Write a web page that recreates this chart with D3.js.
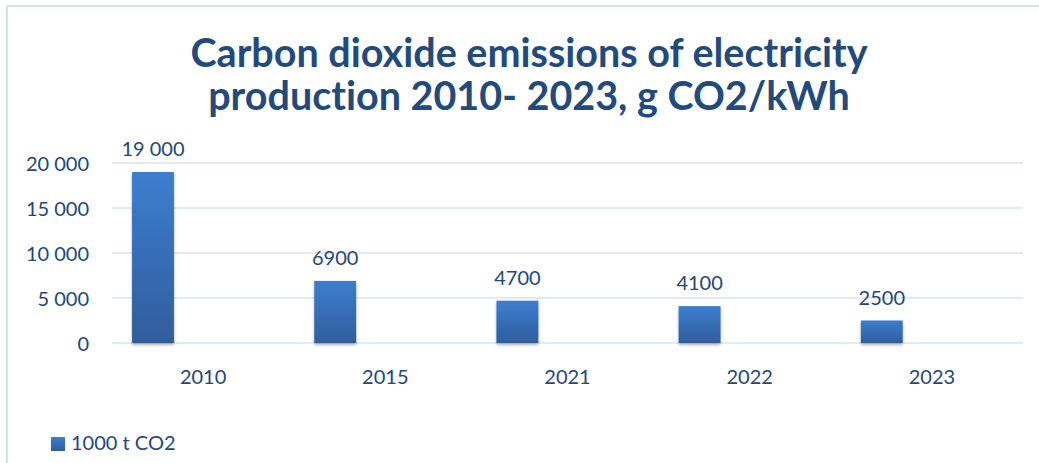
<!DOCTYPE html>
<html>
<head>
<meta charset="utf-8">
<script src="https://cdn.jsdelivr.net/npm/d3@7"></script>
<style>
  html, body { margin: 0; padding: 0; background: #fff; }
  svg { display: block; font-family: Lato, "Open Sans", sans-serif; font-variant-ligatures: none; }
</style>
</head>
<body>
<svg id="chart" width="1039" height="463"></svg>
<script>
// Emissions per year (series "1000 t CO2")
const years = ["2010", "2015", "2021", "2022", "2023"];
const emissions = [19000, 6900, 4700, 4100, 2500];
const valueLabels = ["19 000", "6900", "4700", "4100", "2500"];
const yTicks = [0, 5000, 10000, 15000, 20000];
const titleLines = ["Carbon dioxide emissions of electricity", "production 2010- 2023, g CO2/kWh"];
const seriesName = "1000 t CO2";

const svg = d3.select("#chart");
const textColor = "#22477a";
const gridColor = "#d9e3f3";

// outer frame (top and left edges)
svg.append("path")
  .attr("d", "M7,463 L7,6 L1039,6")
  .attr("fill", "none")
  .attr("stroke", "#d5e2f4")
  .attr("stroke-width", 2);

const plot = { left: 112, right: 1023, top: 163, bottom: 343 };

const x = d3.scaleBand().domain(years).range([plot.left, plot.right]);
const y = d3.scaleLinear().domain([0, 20000]).range([plot.bottom, plot.top]);

const defs = svg.append("defs");
const grad = defs.append("linearGradient")
  .attr("id", "barGrad").attr("x1", 0).attr("y1", 0).attr("x2", 0).attr("y2", 1);
grad.append("stop").attr("offset", "0%").attr("stop-color", "#3d7ecf");
grad.append("stop").attr("offset", "100%").attr("stop-color", "#2f5d9c");

const shadow = defs.append("filter").attr("id", "barShadow")
  .attr("x", "-20%").attr("y", "-10%").attr("width", "140%").attr("height", "130%");
shadow.append("feDropShadow")
  .attr("dx", 0).attr("dy", 2).attr("stdDeviation", 1.8)
  .attr("flood-color", "#000").attr("flood-opacity", 0.3);

// title
svg.append("text")
  .attr("x", 529).attr("y", 67)
  .attr("text-anchor", "middle")
  .attr("font-size", 39.5).attr("font-weight", 700)
  .attr("fill", "#234a7c")
  .selectAll("tspan").data(titleLines).join("tspan")
  .attr("x", 529)
  .attr("dy", (d, i) => i === 0 ? 0 : 43)
  .text(d => d);

// horizontal gridlines
svg.append("g").selectAll("line").data(yTicks).join("line")
  .attr("x1", plot.left).attr("x2", plot.right)
  .attr("y1", d => y(d)).attr("y2", d => y(d))
  .attr("stroke", gridColor).attr("stroke-width", 1.5);

// y axis labels
const yAxis = d3.axisLeft(y).tickValues(yTicks)
  .tickFormat(d => d3.format(",")(d).replace(/,/g, " "))
  .tickSize(0).tickPadding(0);
const yg = svg.append("g").attr("transform", `translate(89,0)`).call(yAxis);
yg.select(".domain").remove();
yg.selectAll("text")
  .attr("font-size", 20).attr("fill", textColor)
  .attr("font-family", "Lato, sans-serif")
  .attr("dy", "0.36em");

// x axis labels
const xAxis = d3.axisBottom(x).tickSize(0).tickPadding(0);
const xg = svg.append("g").attr("transform", `translate(0,${plot.bottom})`).call(xAxis);
xg.select(".domain").remove();
xg.selectAll("text")
  .attr("font-size", 20).attr("fill", textColor)
  .attr("font-family", "Lato, sans-serif")
  .attr("y", 41).attr("dy", 0);

// bars sit on the left part of each category slot
const barOffset = x.bandwidth() * 0.11;
const barWidth = x.bandwidth() * 0.23;
const data = years.map((yr, i) => ({ year: yr, value: emissions[i], label: valueLabels[i] }));

svg.append("g").selectAll("rect").data(data).join("rect")
  .attr("x", d => x(d.year) + barOffset)
  .attr("y", d => y(d.value))
  .attr("width", barWidth)
  .attr("height", d => y(0) - y(d.value))
  .attr("fill", "url(#barGrad)")
  .attr("filter", "url(#barShadow)");

// value labels
svg.append("g").selectAll("text").data(data).join("text")
  .attr("x", d => x(d.year) + barOffset + barWidth / 2)
  .attr("y", d => y(d.value) - 16)
  .attr("text-anchor", "middle")
  .attr("font-size", 20).attr("fill", textColor)
  .text(d => d.label);

// legend
const legend = svg.append("g").attr("transform", "translate(51,437)");
legend.append("rect").attr("width", 14).attr("height", 14).attr("fill", "url(#barGrad)");
legend.append("text")
  .attr("x", 20).attr("y", 13)
  .attr("font-size", 20).attr("fill", textColor)
  .text(seriesName);
</script>
</body>
</html>
